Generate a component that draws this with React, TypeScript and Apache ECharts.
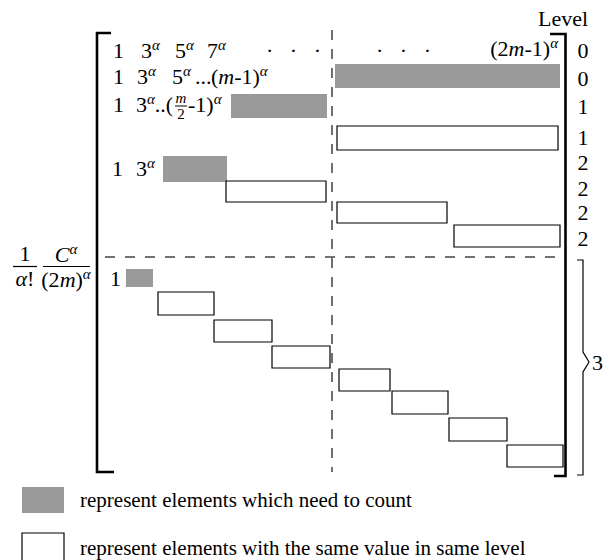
import React, { useEffect, useRef } from "react";
import * as echarts from "echarts";

// Canvas space used as the data space of a hidden cartesian grid.
const X_RANGE = [0, 610];
const Y_RANGE = [0, 560];

// Cells that need to be counted (grey): [x0, y0, x1, y1]
const countedCells = [
  [335, 64, 560, 88],
  [231, 94, 327, 118],
  [163, 156, 227, 182],
  [126, 269, 153, 287],
];

// Cells whose elements share the same value in a level (outlined)
const sameValueCells = [
  [337, 126, 558, 150],
  [226, 181, 326, 202],
  [337, 202, 447, 223],
  [454, 225, 560, 247],
  [158, 292, 214, 315],
  [214, 320, 272, 342],
  [272, 346, 330, 368],
  [339, 369, 390, 391],
  [392, 391, 448, 414],
  [449, 418, 507, 441],
  [507, 445, 563, 467],
];

// Legend swatches: [x0, y0, x1, y1, filled]
const legendCells = [
  [22, 487, 64, 513, 1],
  [22, 533, 64, 566, 0],
];

// Level labels on the right
const levelRowsY = [50, 78, 106, 137, 162, 188, 212, 238];
const levelValues = ["0", "0", "1", "1", "2", "2", "2", "2"];

// Strokes: [kind, points]
const strokes: [string, number[][]][] = [
  ["bracket", [[111, 33], [97, 33], [97, 472], [114, 472]]],
  ["bracket", [[550, 34], [565.5, 34], [565.5, 476], [554, 476]]],
  ["brace", [[577, 260], [583, 260], [583, 352], [589, 362], [583, 372], [583, 475], [577, 475]]],
  ["vdash", [[332, 30], [332, 472]]],
  ["hdash", [[105, 257], [562, 257]]],
  ["bar", [[13, 266.5], [37, 266.5]]],
  ["bar", [[43, 266.5], [90, 266.5]]],
  ["smallbar", [[175, 106], [187, 106]]],
];

// Texts: [x, y, rich text, align]
const texts: [number, number, string, string][] = [
  [113, 50, "{n|1}", "left"],
  [141, 50, "{n|3}{s|α}", "left"],
  [175, 50, "{n|5}{s|α}", "left"],
  [207, 50, "{n|7}{s|α}", "left"],
  [266, 50, "{n|·   ·   ·}", "left"],
  [376, 50, "{n|·   ·   ·}", "left"],
  [558, 48, "{n|(2}{i|m}{n|-1)}{s|α}", "right"],
  [113, 76, "{n|1}", "left"],
  [137, 76, "{n|3}{s|α}", "left"],
  [172, 76, "{n|5}{s|α}", "left"],
  [195, 76, "{n|...}", "left"],
  [211, 76, "{n|(}{i|m}{n|-1)}{s|α}", "left"],
  [113, 104, "{n|1}", "left"],
  [136, 104, "{n|3}{s|α}{n|..(}", "left"],
  [181, 98, "{f|m}", "center"],
  [181, 114, "{g|2}", "center"],
  [188, 104, "{n|-1)}{s|α}", "left"],
  [112, 168, "{n|1}", "left"],
  [136, 168, "{n|3}{s|α}", "left"],
  [110, 278, "{n|1}", "left"],
  [25, 253, "{n|1}", "center"],
  [25, 278, "{i|α}{n|!}", "center"],
  [66, 254, "{i|C}{s|α}", "center"],
  [66, 279, "{n|(2}{i|m}{n|)}{s|α}", "center"],
  [563, 18, "{n|Level}", "center"],
  [592, 362, "{n|3}", "left"],
  [80, 500, "{L|represent elements which need to count}", "left"],
  [80, 548, "{L|represent elements with the same value in same level}", "left"],
];

const GRAY = "#9a9a9a";
const FONT = "'Liberation Serif', 'Times New Roman', serif";

const rich = {
  n: { fontSize: 22, fontFamily: FONT, lineHeight: 26, fill: "#000", color: "#000" },
  i: { fontSize: 22, fontFamily: FONT, fontStyle: "italic", lineHeight: 26, fill: "#000", color: "#000" },
  s: { fontSize: 15, fontFamily: FONT, fontStyle: "italic", lineHeight: 12, verticalAlign: "top", fill: "#000", color: "#000" },
  f: { fontSize: 15, fontFamily: FONT, fontStyle: "italic", lineHeight: 16, fill: "#000", color: "#000" },
  g: { fontSize: 15, fontFamily: FONT, lineHeight: 16, fill: "#000", color: "#000" },
  L: { fontSize: 21, fontFamily: FONT, lineHeight: 24, fill: "#000", color: "#000" },
};

const strokeStyles: Record<string, any> = {
  bracket: { stroke: "#000", lineWidth: 2.6 },
  brace: { stroke: "#000", lineWidth: 1.2 },
  vdash: { stroke: "#222", lineWidth: 1.3, lineDash: [10, 9] },
  hdash: { stroke: "#444", lineWidth: 1.5, lineDash: [10, 10] },
  bar: { stroke: "#000", lineWidth: 1.2 },
  smallbar: { stroke: "#000", lineWidth: 1 },
};

export default function App() {
  const ref = useRef<HTMLDivElement>(null);
  useEffect(() => {
    document.body.style.margin = "0";
    if (!ref.current) return;
    const chart = echarts.init(ref.current, null, { renderer: "svg" });

    const cellData = [
      ...countedCells.map((c) => [...c, 1]),
      ...sameValueCells.map((c) => [...c, 0]),
      ...legendCells,
    ];

    const levelTexts: [number, number, string, string][] = levelRowsY.map((y, i) => [
      583,
      y,
      `{n|${levelValues[i]}}`,
      "center",
    ]);
    const allTexts = [...texts, ...levelTexts];

    chart.setOption({
      animation: false,
      backgroundColor: "#fff",
      grid: { left: 0, right: 0, top: 0, bottom: 0, containLabel: false },
      xAxis: { type: "value", min: X_RANGE[0], max: X_RANGE[1], show: false },
      yAxis: { type: "value", min: Y_RANGE[0], max: Y_RANGE[1], inverse: true, show: false },
      series: [
        {
          type: "custom",
          silent: true,
          encode: { x: [0, 2], y: [1, 3] },
          data: cellData,
          renderItem: (params: any, api: any) => {
            const p0 = api.coord([api.value(0), api.value(1)]);
            const p1 = api.coord([api.value(2), api.value(3)]);
            const filled = api.value(4) === 1;
            return {
              type: "rect",
              shape: { x: p0[0], y: p0[1], width: p1[0] - p0[0], height: p1[1] - p0[1] },
              style: filled
                ? { fill: GRAY, stroke: null }
                : { fill: "#fff", stroke: "#000", lineWidth: 1.2 },
            };
          },
        },
        {
          type: "custom",
          silent: true,
          encode: { x: 0, y: 1 },
          data: strokes.map((s) => s[1][0]),
          renderItem: (params: any, api: any) => {
            const [kind, pts] = strokes[params.dataIndex];
            const points = pts.map((p) => api.coord(p));
            return {
              type: "polyline",
              shape: { points },
              style: { fill: null, ...strokeStyles[kind] },
            };
          },
        },
        {
          type: "custom",
          silent: true,
          encode: { x: 0, y: 1 },
          data: allTexts.map((t) => [t[0], t[1]]),
          renderItem: (params: any, api: any) => {
            const t = allTexts[params.dataIndex];
            const p = api.coord([t[0], t[1]]);
            return {
              type: "text",
              x: p[0],
              y: p[1],
              style: {
                text: t[2],
                rich,
                fill: "#000",
                font: `22px ${FONT}`,
                align: t[3],
                verticalAlign: "middle",
                textAlign: t[3],
                textVerticalAlign: "middle",
              },
            };
          },
        },
      ],
    });
    return () => chart.dispose();
  }, []);
  return (
    <div
      ref={ref}
      style={{ position: "absolute", left: 0, top: 0, width: 610, height: 560, background: "#fff" }}
    />
  );
}
